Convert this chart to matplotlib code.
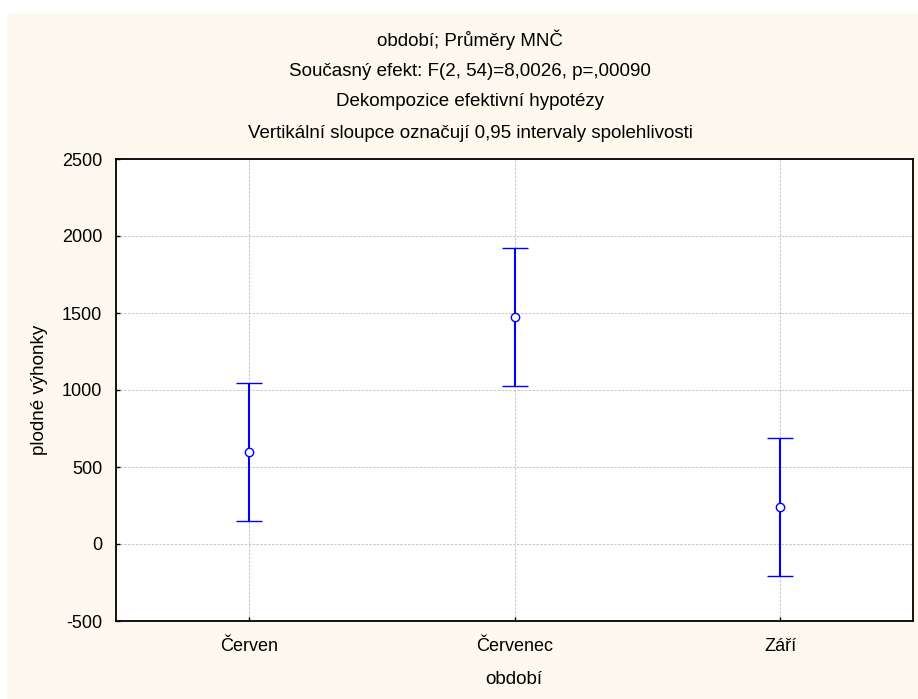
import matplotlib
matplotlib.use("Agg")
import matplotlib.pyplot as plt
from matplotlib.patches import Rectangle

plt.rcParams['font.family'] = ['Liberation Sans', 'DejaVu Sans']

categories = ["Červen", "Červenec", "Září"]
means = [595, 1473, 243]
ci_half = [448, 450, 448]

title_lines = [
    "období; Průměry MNČ",
    "Současný efekt: F(2, 54)=8,0026, p=,00090",
    "Dekompozice efektivní hypotézy",
    "Vertikální sloupce označují 0,95 intervaly spolehlivosti",
]
yticks = [-500, 0, 500, 1000, 1500, 2000, 2500]
xlabel = "období"
ylabel = "plodné výhonky"

W, H = 918, 699
fig = plt.figure(figsize=(W / 100, H / 100), dpi=100)
fig.patch.set_facecolor("white")
fig.patches.append(Rectangle((7 / W, 0), 1 - 7 / W, 1 - 13 / H, transform=fig.transFigure,
                             facecolor="#FEF9EE", edgecolor="none", zorder=-10))

left, right, top, bottom = 116, 913, 159, 621
ax = fig.add_axes([left / W, 1 - bottom / H, (right - left) / W, (bottom - top) / H])
ax.set_facecolor("white")

x = list(range(len(categories)))
ax.errorbar(x, means, yerr=ci_half, fmt="o", color="#0000FF", ecolor="#0000FF",
            elinewidth=1.5, capsize=9.5, capthick=1.5, markersize=6,
            markerfacecolor="white", markeredgecolor="#0000FF", markeredgewidth=1.0, zorder=3)

ax.set_xlim(-0.5, 2.5)
ax.set_ylim(-500, 2500)
ax.set_xticks(x)
ax.set_xticklabels(categories)
ax.set_yticks(yticks)
ax.set_yticklabels([str(v) for v in yticks])
ax.grid(True, color="#C4C4C4", linestyle=(0, (2.5, 1.5)), linewidth=0.7)
ax.set_axisbelow(True)
ax.tick_params(direction="in", length=3, width=1, labelsize=13, colors="black")
ax.tick_params(axis="y", pad=10)
ax.tick_params(axis="x", pad=12)
for s in ax.spines.values():
    s.set_linewidth(1.3)
    s.set_color("black")

fig.text(514 / W, 1 - 680 / H, xlabel, ha="center", va="center", fontsize=13.5)
fig.text(40 / W, 1 - 390 / H, ylabel, ha="center", va="center", rotation=90, fontsize=13.5)

ys = [40, 71, 102, 133]
for t, yy in zip(title_lines, ys):
    fig.text(470 / W, 1 - yy / H, t, ha="center", va="center", fontsize=13.5)

fig.savefig("out.png", dpi=100)
